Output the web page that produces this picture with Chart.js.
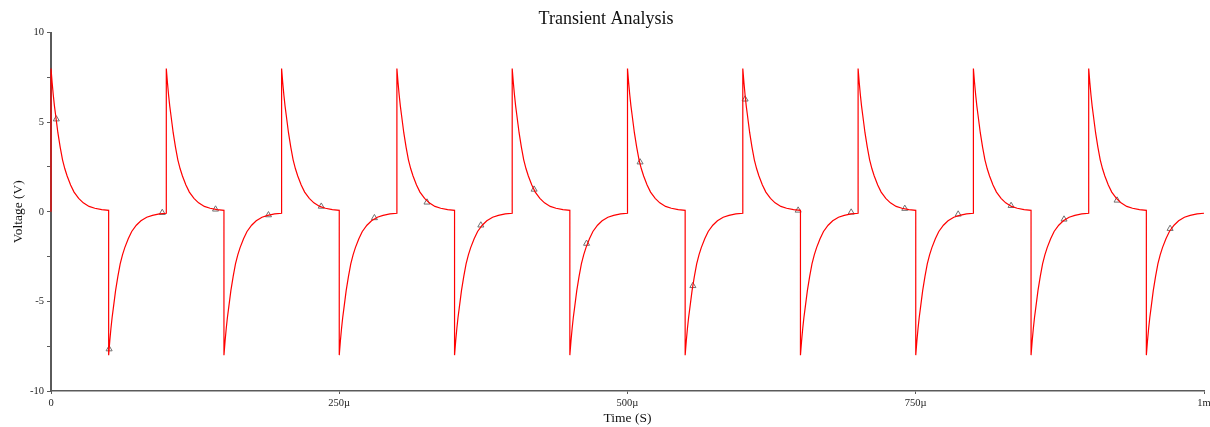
<!DOCTYPE html>
<html>
<head>
<meta charset="utf-8">
<title>Transient Analysis</title>
<script src="https://cdn.jsdelivr.net/npm/chart.js@4/dist/chart.umd.min.js"></script>
<style>
  html, body { margin: 0; padding: 0; background: #fff; }
  #wrap { width: 1210px; height: 427px; }
</style>
</head>
<body>
<div id="wrap"><canvas id="myChart" width="1210" height="427"></canvas></div>
<script>
// switching edges of the square input (µs) and which way each one goes
const edgeTimes = [0, 50, 100, 150, 200, 250, 300, 350, 400, 450, 500, 550, 600, 650, 700, 750, 800, 850, 900, 950];
const edgeDirection = [1, -1, 1, -1, 1, -1, 1, -1, 1, -1, 1, -1, 1, -1, 1, -1, 1, -1, 1, -1];

// one decay: µs after the edge, volts
const pulseTimes = [0, 1, 2, 3, 4, 5, 6, 8, 10, 12, 14, 17, 20, 24, 28, 33, 38, 44, 50];
const pulseVolts = [8.0, 7.2, 6.5, 5.9, 5.4, 4.9, 4.4, 3.6, 2.9, 2.4, 2.0, 1.5, 1.1, 0.75, 0.5, 0.3, 0.2, 0.12, 0.08];

// triangle markers on the trace
const markerTimes = [4.6, 50.4, 96.5, 142.7, 188.6, 234.4, 280.5, 326.1, 372.8, 419, 464.5, 510.9, 556.7, 602, 648, 694, 740.5, 786.8, 832.7, 878.6, 924.6, 970.6];
const markerVolts = [5.17, -7.66, -0.05, 0.14, -0.18, 0.3, -0.34, 0.53, -0.75, 1.25, -1.77, 2.77, -4.13, 6.28, 0.08, -0.03, 0.18, -0.14, 0.34, -0.42, 0.64, -0.94];

// axis tick labels
const xTickLabels = {0: "0", 250: "250\u00b5", 500: "500\u00b5", 750: "750\u00b5", 1000: "1m"};
const yTickLabels = {"-10": "-10", "-5": "-5", "0": "0", "5": "5", "10": "10"};

// build the trace
const trace = [{x: 0, y: 0}];
edgeTimes.forEach((t0, i) => {
    const dir = edgeDirection[i];
    pulseTimes.forEach((dt, j) => {
        trace.push({x: t0 + dt, y: dir * pulseVolts[j]});
    });
});
const markers = markerTimes.map((t, i) => ({x: t, y: markerVolts[i]}));

const serif = "'Liberation Serif', 'DejaVu Serif', serif";

new Chart("myChart", {
    type: "line",
    data: {
        datasets: [{
            data: trace,
            borderColor: "#ff0000",
            borderWidth: 1.2,
            pointRadius: 0,
            tension: 0,
            fill: false,
            clip: false
        }, {
            type: "scatter",
            data: markers,
            showLine: false,
            pointStyle: "triangle",
            pointRadius: 3.5,
            pointBorderColor: "#707070",
            pointBackgroundColor: "rgba(255,255,255,0)",
            pointBorderWidth: 1
        }]
    },
    options: {
        responsive: false,
        animation: false,
        layout: {padding: {left: 8, right: 6, top: 0, bottom: 0}},
        plugins: {
            legend: {display: false},
            tooltip: {enabled: false},
            title: {
                display: true,
                text: "Transient Analysis",
                color: "#111",
                font: {family: serif, size: 18, weight: "normal"},
                padding: {top: 8, bottom: 3}
            }
        },
        scales: {
            x: {
                type: "linear",
                min: 0,
                max: 1000,
                afterBuildTicks: s => { s.ticks = Object.keys(xTickLabels).map(v => ({value: +v})); },
                afterFit: s => { s.height = 36; s.paddingLeft = 0; s.paddingRight = 0; },
                border: {display: true, color: "#5a5a5a", width: 1.5},
                grid: {drawOnChartArea: false, drawTicks: true, tickLength: 3, color: "#5a5a5a"},
                ticks: {
                    autoSkip: false,
                    maxRotation: 0,
                    padding: 3,
                    color: "#222",
                    font: {family: serif, size: 10.5},
                    callback: v => xTickLabels[v] ?? ""
                },
                title: {
                    display: true,
                    text: "Time (S)",
                    color: "#111",
                    font: {family: serif, size: 13.5},
                    padding: {top: 0, bottom: 0}
                }
            },
            y: {
                min: -10,
                max: 10,
                afterBuildTicks: s => {
                    const t = [];
                    for (let v = -10; v <= 10; v += 2.5) t.push({value: v});
                    s.ticks = t;
                },
                afterFit: s => { s.width = 43; s.paddingTop = 0; s.paddingBottom = 0; },
                border: {display: true, color: "#5a5a5a", width: 2},
                grid: {drawOnChartArea: false, drawTicks: true, tickLength: 4, color: "#5a5a5a"},
                ticks: {
                    autoSkip: false,
                    padding: 3,
                    color: "#222",
                    font: {family: serif, size: 10.5},
                    callback: v => yTickLabels[String(v)] ?? ""
                },
                title: {
                    display: true,
                    text: "Voltage (V)",
                    color: "#111",
                    font: {family: serif, size: 13.5},
                    padding: {top: 2, bottom: 4}
                }
            }
        }
    }
});
</script>
</body>
</html>
